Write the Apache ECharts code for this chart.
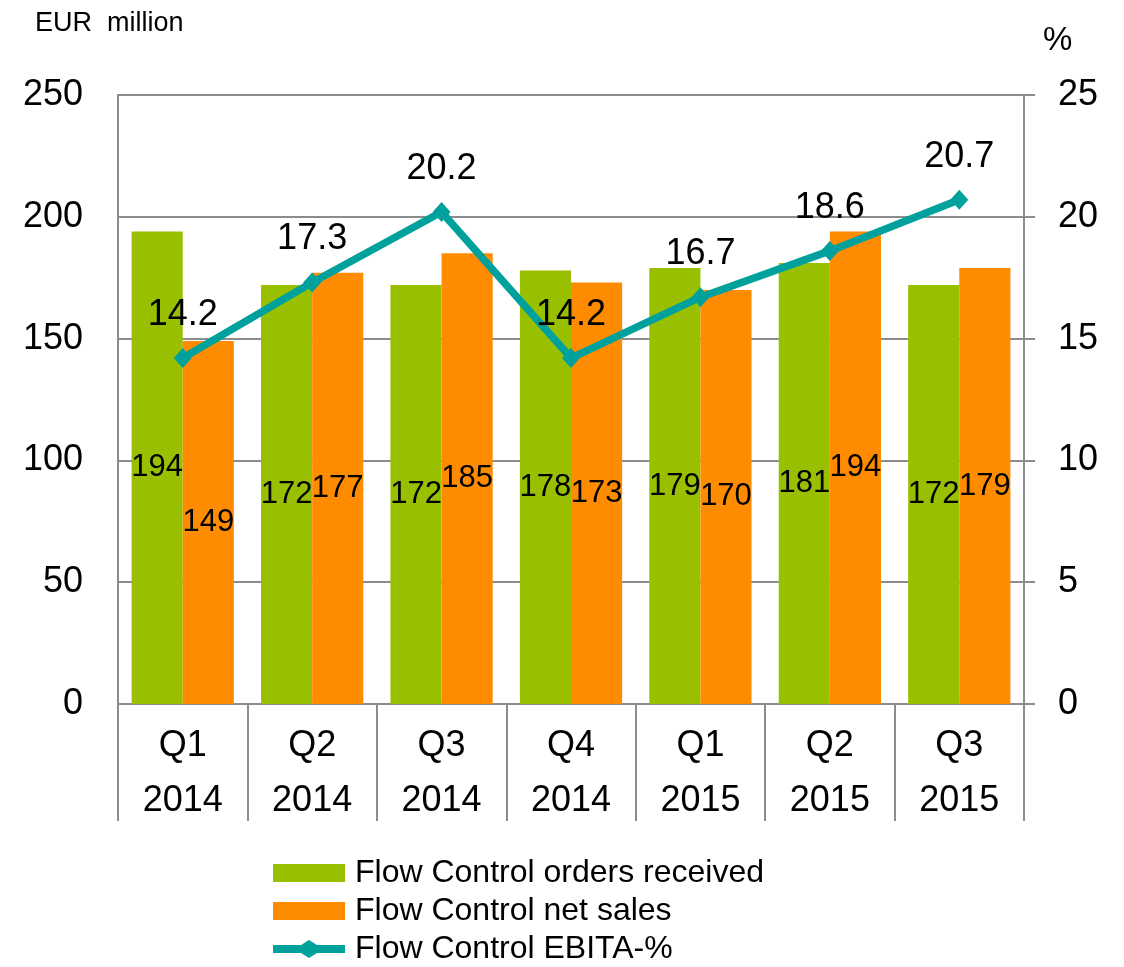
<!DOCTYPE html>
<html>
<head>
<meta charset="utf-8">
<script src="https://cdn.jsdelivr.net/npm/echarts@6/dist/echarts.min.js"></script>
<style>
  html, body { margin: 0; padding: 0; background: #fff; }
  #chart { width: 1124px; height: 967px; }
</style>
</head>
<body>
<div id="chart"></div>
<script>
const quarters = ["Q1", "Q2", "Q3", "Q4", "Q1", "Q2", "Q3"];
const years = ["2014", "2014", "2014", "2014", "2015", "2015", "2015"];
const ordersReceived = [194, 172, 172, 178, 179, 181, 172];
const netSales = [149, 177, 185, 173, 170, 194, 179];
const ebitaPct = [14.2, 17.3, 20.2, 14.2, 16.7, 18.6, 20.7];

const categories = quarters.map((q, i) => q + "\n" + years[i]);

const font = "Liberation Sans, Arial, sans-serif";
const gray = "#8c8c8c";
const teal = "#00a19c";

// legend icon for the line series: thick bar with a diamond in the middle
const lineIcon = "path://M0,5 L28,5 L36,0 L44,5 L72,5 L72,13 L44,13 L36,18 L28,13 L0,13 Z";

const chart = echarts.init(document.getElementById("chart"));

const option = {
  animation: false,
  textStyle: { fontFamily: font, color: "#000" },
  title: [
    { text: "EUR  million", left: 30, top: 5, textStyle: { fontSize: 27, fontWeight: "normal", color: "#000", fontFamily: font } },
    { text: "%", left: 1038, top: 19, textStyle: { fontSize: 33, fontWeight: "normal", color: "#000", fontFamily: font } }
  ],
  grid: { left: 118, right: 100, top: 95, bottom: 263, containLabel: false },
  legend: {
    orient: "vertical",
    left: 273,
    top: 857,
    height: 200,
    padding: 0,
    itemWidth: 72,
    itemHeight: 18,
    itemGap: 6,
    textStyle: { fontSize: 32, fontFamily: font, color: "#000", padding: [0, 0, 0, 5] },
    data: [
      { name: "Flow Control orders received", icon: "rect" },
      { name: "Flow Control net sales", icon: "rect" },
      { name: "Flow Control EBITA-%", icon: lineIcon, itemStyle: { color: teal } }
    ]
  },
  xAxis: {
    type: "category",
    data: categories,
    boundaryGap: true,
    axisLine: { lineStyle: { color: gray, width: 2 } },
    axisTick: { show: true, interval: 0, length: 117, lineStyle: { color: gray, width: 2 } },
    axisLabel: { interval: 0, fontSize: 36, lineHeight: 55, margin: 15, color: "#000", fontFamily: font }
  },
  yAxis: [
    {
      type: "value",
      min: 0, max: 250, interval: 50,
      axisLine: { show: true, lineStyle: { color: gray, width: 2 } },
      axisTick: { show: false },
      splitLine: { lineStyle: { color: gray, width: 2 } },
      axisLabel: { fontSize: 36, margin: 35, color: "#000", fontFamily: font }
    },
    {
      type: "value",
      min: 0, max: 25, interval: 5,
      position: "right",
      axisLine: { show: true, lineStyle: { color: gray, width: 2 } },
      axisTick: { show: true, length: 11, lineStyle: { color: gray, width: 2 } },
      splitLine: { show: false },
      axisLabel: { fontSize: 36, margin: 34, color: "#000", fontFamily: font }
    }
  ],
  series: [
    {
      name: "Flow Control orders received",
      type: "bar",
      data: ordersReceived,
      barGap: "0%",
      barCategoryGap: "21%",
      itemStyle: { color: "#99c000" },
      label: { show: true, position: "inside", fontSize: 31, color: "#000", fontFamily: font }
    },
    {
      name: "Flow Control net sales",
      type: "bar",
      data: netSales,
      itemStyle: { color: "#ff8c00" },
      label: { show: true, position: "inside", fontSize: 31, color: "#000", fontFamily: font }
    },
    {
      name: "Flow Control EBITA-%",
      type: "line",
      yAxisIndex: 1,
      data: ebitaPct,
      symbol: "diamond",
      symbolSize: [18, 20],
      lineStyle: { color: teal, width: 7.5 },
      itemStyle: { color: teal },
      label: {
        show: true, position: "top", distance: 15, fontSize: 36, color: "#000", fontFamily: font,
        formatter: p => p.value.toFixed(1)
      },
      z: 5
    }
  ]
};

chart.setOption(option);
</script>
</body>
</html>
